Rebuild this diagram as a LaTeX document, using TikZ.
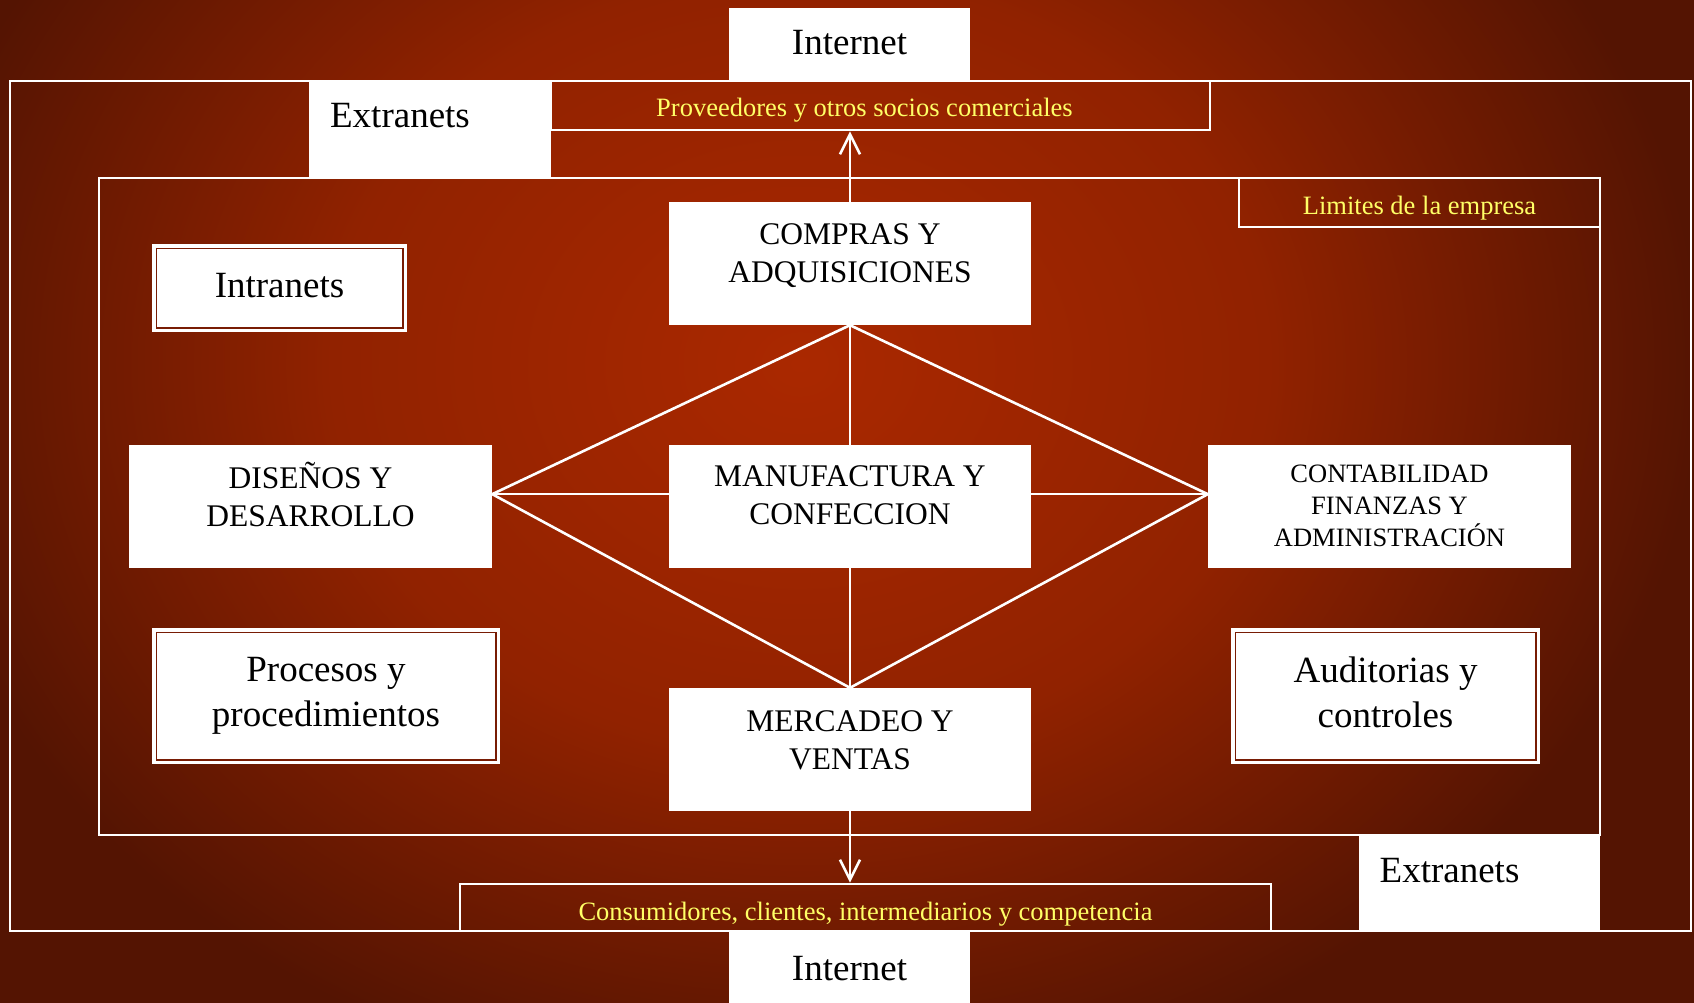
\documentclass[tikz,border=0pt]{standalone}
\usepackage{fontspec}
\setmainfont{Liberation Serif}
\usetikzlibrary{arrows.meta,calc}
\definecolor{bgin}{RGB}{170,40,0}
\definecolor{bgmid}{RGB}{145,34,0}
\definecolor{bgout}{RGB}{84,20,2}
\definecolor{ylw}{RGB}{255,255,102}
\definecolor{dred}{RGB}{120,28,4}
\pgfdeclareradialshading{bgsh}{\pgfpointorigin}{color(0bp)=(bgin); color(13bp)=(bgmid); color(25bp)=(bgout); color(50bp)=(bgout)}
\newcommand{\myfsA}{\fontsize{37}{45}\selectfont}
\newcommand{\myfsB}{\fontsize{31.5}{38}\selectfont}
\newcommand{\myfsC}{\fontsize{26.5}{32}\selectfont}
\begin{document}
\begin{tikzpicture}[x=1pt,y=-1pt,
  wline/.style={draw=white, line width=2.6pt},
  wbox/.style={fill=white, draw=none, inner sep=0pt},
  frame/.style={draw=white, line width=2.8pt, inner sep=0pt},
  lblA/.style={align=center, text=black, font=\myfsA},
  lblB/.style={align=center, text=black, font=\myfsB, yshift=11pt},
  lblC/.style={align=center, text=black, font=\myfsC},
  lblY/.style={align=center, text=ylw, font=\myfsC},
  arr/.style={wline, -{Straight Barb[length=20pt,width=20pt]}}]
% background
\fill[bgout] (0,0) rectangle (1694,1003);
\begin{scope}
\clip (0,0) rectangle (1694,1003);
\shade[shading=bgsh] (-100,-379) rectangle (1700,1107);
\end{scope}
\useasboundingbox (0,0) rectangle (1694,1003);
% frames
\draw[white, line width=2.8pt] (10,81) rectangle (1691,931);
\draw[white, line width=2.8pt] (99,178) rectangle (1600,835);
% white boxes on frames
\node[wbox, minimum width=241, minimum height=73, label={[lblA, yshift=1.5pt]center:Internet}] (inettop) at (849.5,44.5) {};
\node[wbox, minimum width=241, minimum height=72, label={[lblA, yshift=-2pt]center:Internet}] (inetbot) at (849.5,967) {};
\node[wbox, minimum width=242, minimum height=97, label={[lblA, xshift=-30pt, yshift=14pt]center:Extranets}] (exttl) at (430,129.5) {};
\node[wbox, minimum width=241, minimum height=96, label={[lblA, xshift=-30pt, yshift=12pt]center:Extranets}] (extbr) at (1479.5,883) {};
% transparent framed labels
\node[frame, minimum width=659, minimum height=49, label={[lblY, xshift=-16pt, yshift=-4.5pt]center:Proveedores y otros socios comerciales}] (prov) at (880.5,105.5) {};
\node[frame, minimum width=361, minimum height=49, label={[lblY, yshift=-6pt]center:Limites de la empresa}] (lim) at (1419.5,202.5) {};
\node[frame, minimum width=811, minimum height=47, label={[lblY, yshift=-7pt]center:Consumidores, clientes, intermediarios y competencia}] (cons) at (865.5,907.5) {};
% function boxes
\node[wbox, minimum width=362, minimum height=123, label={[lblB, yshift=-3pt]center:COMPRAS Y\\ADQUISICIONES}] (compras) at (850,263.5) {};
\node[wbox, minimum width=363, minimum height=123, label={[lblB, yshift=1.5pt]center:DISEÑOS Y\\DESARROLLO}] (dis) at (310.5,506.5) {};
\node[wbox, minimum width=362, minimum height=123, label={[lblB]center:MANUFACTURA Y\\CONFECCION}] (manuf) at (850,506.5) {};
\node[wbox, minimum width=363, minimum height=123, label={[lblC, yshift=0.5pt]center:CONTABILIDAD\\FINANZAS Y\\ADMINISTRACIÓN}] (con) at (1389.5,506.5) {};
\node[wbox, minimum width=362, minimum height=123, label={[lblB, yshift=-2pt]center:MERCADEO Y\\VENTAS}] (merc) at (850,749.5) {};
% double-bordered boxes
\node[wbox, minimum width=255, minimum height=88, label={[lblA, yshift=2pt]center:Intranets}] (intr) at (279.5,288) {};
\node[wbox, minimum width=348, minimum height=136, label={[lblA, yshift=0pt]center:Procesos y\\procedimientos}] (proc) at (326,696) {};
\node[wbox, minimum width=309, minimum height=136, label={[lblA, yshift=4pt]center:Auditorias y\\controles}] (aud) at (1385.5,696) {};
\foreach \b in {intr,proc,aud}
  \draw[dred, line width=1.6pt] ($(\b.north west)+(4.5,4.5)$) rectangle ($(\b.south east)+(-4.5,-4.5)$);
% connectors
\coordinate (dE) at ($(dis.north east)!0.4!(dis.south east)$);
\coordinate (cW) at ($(con.north west)!0.4!(con.south west)$);
\coordinate (mW) at ($(manuf.north west)!0.4!(manuf.south west)$);
\coordinate (mE) at ($(manuf.north east)!0.4!(manuf.south east)$);
\draw[wline] (compras.south) -- (manuf.north);
\draw[wline] (manuf.south) -- (merc.north);
\draw[wline, line join=miter] (compras.south) -- (dE) -- (merc.north) -- (cW) -- cycle;
\draw[wline] (dE) -- (mW);
\draw[wline] (mE) -- (cW);
\draw[arr] (compras.north) -- (compras.north |- prov.south);
\draw[arr] (merc.south) -- (merc.south |- cons.north);
\end{tikzpicture}
\end{document}
